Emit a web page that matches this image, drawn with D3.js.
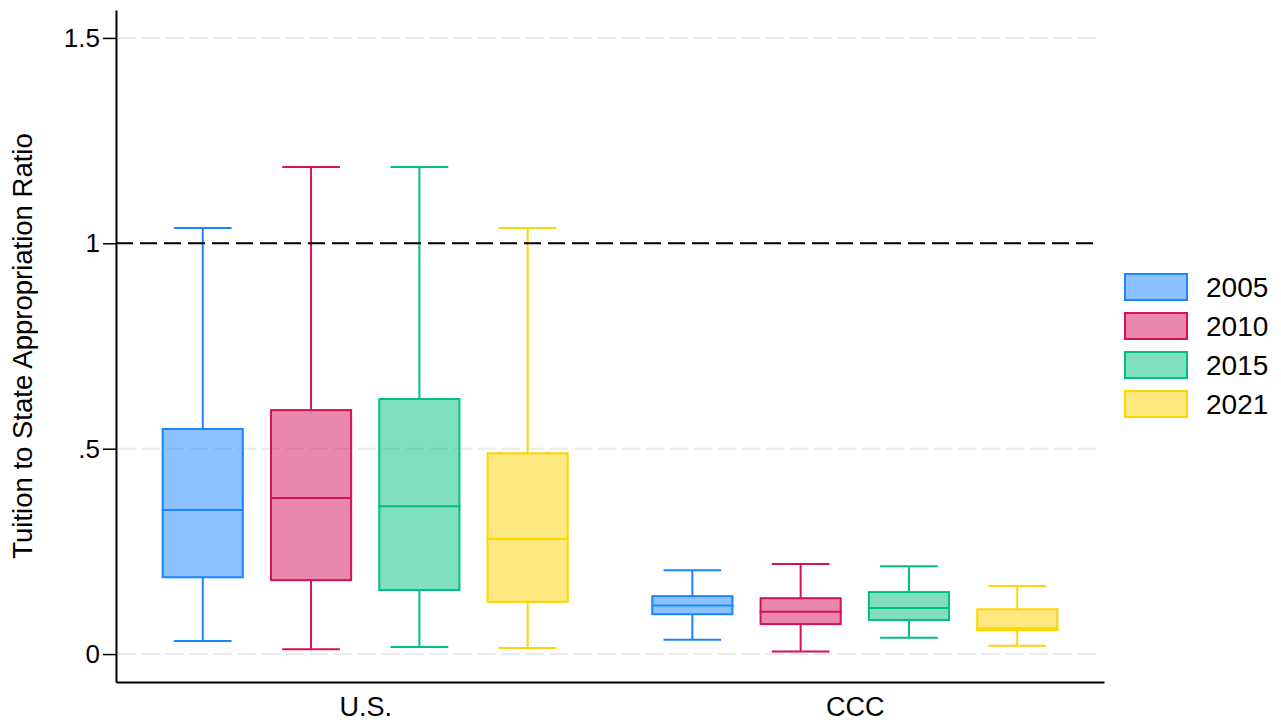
<!DOCTYPE html>
<html>
<head>
<meta charset="utf-8">
<script src="https://cdn.jsdelivr.net/npm/d3@7"></script>
<style>
  body { margin: 0; background: #fff; }
  text { font-family: "Liberation Sans", Arial, sans-serif; }
</style>
</head>
<body>
<div id="graph"></div>
<script>
// groupes et années
let groupes = ["U.S.", "CCC"];
let annees = ["2005", "2010", "2015", "2021"];

// statistiques des boîtes (min moustache, Q1, médiane, Q3, max moustache) par année
let usBas     = [0.032, 0.012, 0.017, 0.015];
let usQ1      = [0.187, 0.180, 0.156, 0.127];
let usMediane = [0.351, 0.380, 0.360, 0.280];
let usQ3      = [0.548, 0.594, 0.621, 0.489];
let usHaut    = [1.037, 1.186, 1.186, 1.037];

let cccBas     = [0.035, 0.006, 0.040, 0.020];
let cccQ1      = [0.097, 0.073, 0.083, 0.058];
let cccMediane = [0.118, 0.103, 0.112, 0.063];
let cccQ3      = [0.141, 0.136, 0.151, 0.109];
let cccHaut    = [0.204, 0.219, 0.214, 0.166];

let ticksY = [0, 0.5, 1, 1.5];
let labelsY = ["0", ".5", "1", "1.5"];
let ligneRef = 1;

let couleurs = ["#1a85ff", "#d41159", "#00bf7f", "#ffd400"];

// tableau pour le dessin
let boites = [];
annees.forEach(function(a, i) {
  boites.push({ groupe: "U.S.", annee: a, bas: usBas[i], q1: usQ1[i], med: usMediane[i], q3: usQ3[i], haut: usHaut[i] });
  boites.push({ groupe: "CCC", annee: a, bas: cccBas[i], q1: cccQ1[i], med: cccMediane[i], q3: cccQ3[i], haut: cccHaut[i] });
});

let largeurTotale = 1281, hauteurTotale = 726;
let gauche = 116, droite = 1104, haut = 10, bas = 682;

let svg = d3.select("#graph").append("svg")
    .attr("width", largeurTotale)
    .attr("height", hauteurTotale);

let echelleY = d3.scaleLinear()
    .domain([-0.068, 1.568])
    .range([bas, haut]);

let echelleX = d3.scalePoint()
    .domain(groupes)
    .range([gauche, droite])
    .padding(0.509);

let echelleAnnee = d3.scaleBand()
    .domain(annees)
    .range([-216.6, 216.6])
    .paddingInner(0.26)
    .paddingOuter(0.13);

let echelleCouleur = d3.scaleOrdinal()
    .domain(annees)
    .range(couleurs);

// grille
svg.append("g").selectAll("line")
  .data(ticksY.filter(function(t) { return t !== ligneRef; }))
  .enter().append("line")
    .attr("x1", gauche + 2).attr("x2", 1100)
    .attr("y1", function(d) { return echelleY(d); })
    .attr("y2", function(d) { return echelleY(d); })
    .attr("stroke", "#ebebeb")
    .attr("stroke-width", 2)
    .attr("stroke-dasharray", "18,6");

// boîtes
let bw = echelleAnnee.bandwidth();
let cap = bw * 0.72;
let g = svg.append("g").selectAll("g")
  .data(boites)
  .enter().append("g")
    .attr("transform", function(d) { return "translate(" + (echelleX(d.groupe) + echelleAnnee(d.annee)) + ",0)"; });

g.append("line")
    .attr("x1", bw / 2).attr("x2", bw / 2)
    .attr("y1", function(d) { return echelleY(d.haut); })
    .attr("y2", function(d) { return echelleY(d.q3); });
g.append("line")
    .attr("x1", bw / 2).attr("x2", bw / 2)
    .attr("y1", function(d) { return echelleY(d.q1); })
    .attr("y2", function(d) { return echelleY(d.bas); });
g.append("line")
    .attr("x1", (bw - cap) / 2).attr("x2", (bw + cap) / 2)
    .attr("y1", function(d) { return echelleY(d.haut); })
    .attr("y2", function(d) { return echelleY(d.haut); });
g.append("line")
    .attr("x1", (bw - cap) / 2).attr("x2", (bw + cap) / 2)
    .attr("y1", function(d) { return echelleY(d.bas); })
    .attr("y2", function(d) { return echelleY(d.bas); });
g.append("rect")
    .attr("x", 0)
    .attr("width", bw)
    .attr("y", function(d) { return echelleY(d.q3); })
    .attr("height", function(d) { return echelleY(d.q1) - echelleY(d.q3); })
    .attr("fill", function(d) { return echelleCouleur(d.annee); })
    .attr("fill-opacity", 0.5);
g.append("line")
    .attr("x1", -1).attr("x2", bw + 1)
    .attr("y1", function(d) { return echelleY(d.med); })
    .attr("y2", function(d) { return echelleY(d.med); });
g.selectAll("line")
    .attr("stroke", function() { return echelleCouleur(d3.select(this.parentNode).datum().annee); })
    .attr("stroke-width", 2);
g.select("rect")
    .attr("stroke", function(d) { return echelleCouleur(d.annee); })
    .attr("stroke-width", 2);

// ligne de référence à 1
svg.append("line")
    .attr("x1", gauche).attr("x2", 1100)
    .attr("y1", echelleY(ligneRef)).attr("y2", echelleY(ligneRef))
    .attr("stroke", "#000")
    .attr("stroke-width", 2)
    .attr("stroke-dasharray", "17,7");

// axes
let axeY = d3.axisLeft(echelleY)
    .tickValues(ticksY)
    .tickFormat(function(d, i) { return labelsY[i]; })
    .tickSize(13)
    .tickSizeOuter(0)
    .tickPadding(3);

let axeX = d3.axisBottom(echelleX)
    .tickSize(0)
    .tickPadding(15);

let gy = svg.append("g")
    .attr("transform", "translate(" + gauche + ",0)")
    .call(axeY);
let gx = svg.append("g")
    .attr("transform", "translate(0," + bas + ")")
    .call(axeX);

[gx, gy].forEach(function(a) {
  a.select(".domain").attr("stroke", "#000").attr("stroke-width", 2);
  a.selectAll(".tick line").attr("stroke", "#000").attr("stroke-width", 1.5);
  a.selectAll("text").attr("fill", "#000").style("font-size", "26px")
    .style("font-family", '"Liberation Sans", Arial, sans-serif');
});
gx.selectAll("text").style("font-size", "27px");

// titre de l'axe Y
svg.append("text")
    .attr("transform", "translate(32," + ((haut + bas) / 2) + ") rotate(-90)")
    .attr("text-anchor", "middle")
    .style("font-size", "27.5px")
    .text("Tuition to State Appropriation Ratio");

// légende
let legende = svg.append("g").selectAll("g")
  .data(annees)
  .enter().append("g")
    .attr("transform", function(d, i) { return "translate(1125," + (274 + i * 39) + ")"; });
legende.append("rect")
    .attr("width", 62).attr("height", 26)
    .attr("fill", function(d) { return echelleCouleur(d); })
    .attr("fill-opacity", 0.5)
    .attr("stroke", function(d) { return echelleCouleur(d); })
    .attr("stroke-width", 2);
legende.append("text")
    .attr("x", 81).attr("y", 13).attr("dy", "0.36em")
    .style("font-size", "28px")
    .text(function(d) { return d; });
</script>
</body>
</html>
